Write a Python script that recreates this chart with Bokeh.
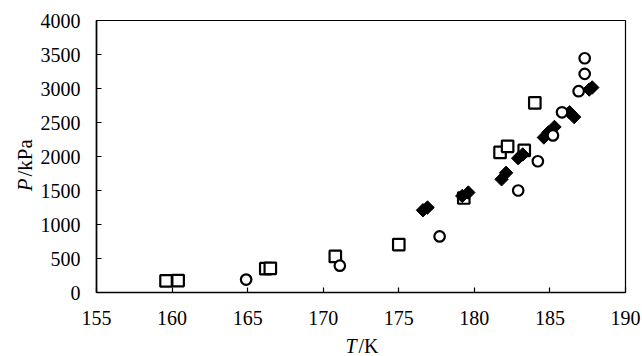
import math
from bokeh.plotting import figure
from bokeh.models import Range1d, FixedTicker
from bokeh.layouts import row, column
from bokeh.core.properties import value
from bokeh.embed import file_html
from bokeh.resources import INLINE

# Data (T in K, P in kPa)
sq_T = [159.6, 160.4, 166.2, 166.5, 170.8, 175.0, 179.3, 181.7, 182.2, 183.3, 184.0]
sq_P = [170, 175, 350, 355, 530, 705, 1390, 2060, 2150, 2090, 2790]

ci_T = [164.9, 171.1, 177.7, 182.9, 184.2, 185.2, 185.8, 186.9, 187.3, 187.3]
ci_P = [190, 395, 825, 1500, 1930, 2310, 2650, 2960, 3215, 3445]

di_T = [176.6, 176.9, 179.2, 179.6, 181.8, 182.1, 182.9, 183.2, 184.6, 184.9, 185.3, 186.3, 186.6, 187.6, 187.8]
di_P = [1210, 1250, 1420, 1470, 1665, 1760, 1975, 2030, 2280, 2355, 2435, 2650, 2580, 2985, 3015]

x_ticks = [155, 160, 165, 170, 175, 180, 185, 190]
y_ticks = [0, 500, 1000, 1500, 2000, 2500, 3000, 3500, 4000]

x_title = ["T", "/K"]
y_title = ["P", "/kPa"]

FONT = "Liberation Serif"
TICK_SIZE = "20px"
TITLE_SIZE = "21px"
XTITLE_SIZE = "20px"

# ---- main plot ----
p = figure(width=606, height=334, output_backend="svg", toolbar_location=None,
           x_range=Range1d(155, 190), y_range=Range1d(0, 4000),
           min_border_left=60, min_border_right=17, min_border_top=20, min_border_bottom=42)
p.background_fill_color = "white"
p.border_fill_color = "white"
p.grid.visible = False
p.outline_line_color = "black"
p.outline_line_width = 1.2

for ax in (p.xaxis[0], p.yaxis[0]):
    ax.axis_line_color = "black"
    ax.axis_line_width = 1.6
    ax.major_tick_line_color = "black"
    ax.major_tick_line_width = 1.2
    ax.major_tick_in = 5
    ax.major_tick_out = 0
    ax.minor_tick_line_color = None
    ax.major_label_text_font = FONT
    ax.major_label_text_font_size = TICK_SIZE
    ax.major_label_text_color = "black"

p.xaxis[0].ticker = FixedTicker(ticks=x_ticks)
p.yaxis[0].ticker = FixedTicker(ticks=y_ticks)
p.xaxis[0].major_label_standoff = 18
p.yaxis[0].major_label_standoff = 16

p.scatter(sq_T, sq_P, marker="square", size=11.5, fill_color="white",
          line_color="black", line_width=2.2)
p.scatter(di_T, di_P, marker="square", angle=math.pi / 4, size=9.5, fill_color="black",
          line_color="black", line_width=1)
p.scatter(ci_T, ci_P, marker="circle", size=10.5, fill_color="white",
          line_color="black", line_width=2.2)


def text_panel(w, h):
    f = figure(width=w, height=h, output_backend="svg", toolbar_location=None,
               x_range=Range1d(0, w), y_range=Range1d(0, h), min_border=0,
               x_axis_location=None, y_axis_location=None)
    f.outline_line_color = None
    f.background_fill_color = "white"
    f.border_fill_color = "white"
    f.grid.visible = False
    return f


# ---- left panel: rotated y title, italic P + /kPa ----
left = text_panel(36, 356)
left.text(x=[24], y=[178], text=[y_title[0]], angle=math.pi / 2,
          text_font=value(FONT), text_font_style="italic", text_font_size=TITLE_SIZE,
          text_align="right", text_baseline="middle", text_color="black")
left.text(x=[24], y=[180], text=[y_title[1]], angle=math.pi / 2,
          text_font=value(FONT), text_font_size=TITLE_SIZE,
          text_align="left", text_baseline="middle", text_color="black")

# ---- bottom panel: x title, italic T + /K ----
bottom = text_panel(606, 22)
bottom.text(x=[298], y=[10.5], text=[x_title[0]],
            text_font=value(FONT), text_font_style="italic", text_font_size=XTITLE_SIZE,
            text_align="right", text_baseline="middle", text_color="black")
bottom.text(x=[300], y=[10.5], text=[x_title[1]],
            text_font=value(FONT), text_font_size=XTITLE_SIZE,
            text_align="left", text_baseline="middle", text_color="black")

layout = row(left, column(p, bottom, spacing=0), spacing=0)

open("out.html", "w").write(file_html(layout, INLINE))
